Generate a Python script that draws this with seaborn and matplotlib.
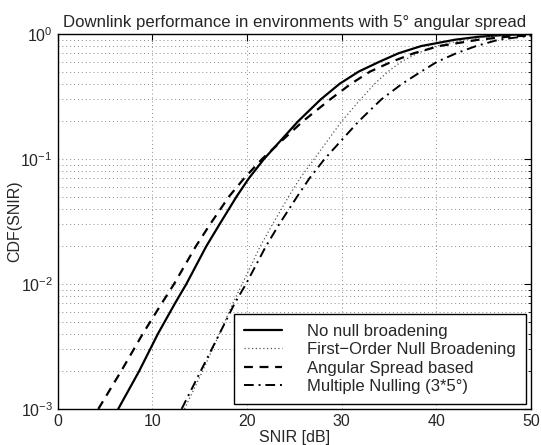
import matplotlib
matplotlib.use("Agg")
import matplotlib.pyplot as plt
import seaborn as sns
import pandas as pd
from matplotlib.ticker import LogLocator, NullFormatter

# CDF levels and SNIR [dB], one list per scheme
cdf_levels = [0.001, 0.002, 0.004, 0.007, 0.01, 0.02, 0.03, 0.05, 0.07, 0.1,
              0.2, 0.3, 0.4, 0.5, 0.6, 0.7, 0.8, 0.9, 0.95, 0.98, 1.0]
snir_no_null = [6.4, 8.6, 10.6, 12.4, 13.6, 15.7, 17.1, 18.9, 20.2, 21.8,
                25.4, 27.8, 29.8, 31.8, 34.0, 36.0, 38.4, 42.0, 44.5, 47.0, 50.0]
snir_first_order = [13.4, 15.3, 17.1, 18.5, 19.5, 21.4, 22.7, 24.4, 25.6, 27.1,
                    30.0, 32.0, 33.5, 34.9, 36.3, 38.0, 40.0, 43.0, 45.5, 47.5, 50.0]
snir_angular = [4.3, 6.7, 9.0, 11.0, 12.3, 14.6, 16.1, 18.1, 19.7, 21.6,
                25.9, 28.8, 31.0, 33.0, 35.3, 37.6, 40.3, 44.5, 47.5, 50.0]
cdf_angular = cdf_levels[:19] + [0.975]
snir_multi = [13.1, 15.1, 17.1, 18.7, 19.9, 22.0, 23.4, 25.3, 26.6, 28.2,
              31.8, 34.2, 36.4, 38.4, 40.1, 42.1, 44.2, 46.6, 50.0]
cdf_multi = cdf_levels[:18] + [0.97]

series = [
    ("No null broadening", snir_no_null, cdf_levels, "-", 1.6, "black"),
    ("First\u2212Order Null Broadening", snir_first_order, cdf_levels, (0, (1, 2)), 0.9, "#555555"),
    ("Angular Spread based", snir_angular, cdf_angular, (0, (4, 3)), 1.6, "black"),
    ("Multiple Nulling (3*5\u00b0)", snir_multi, cdf_multi, (0, (5, 2.5, 1, 2.5)), 1.4, "black"),
]

sns.set_style("white")
plt.rcParams["font.family"] = ["Liberation Sans", "DejaVu Sans"]
plt.rcParams["mathtext.fontset"] = "custom"
plt.rcParams["mathtext.rm"] = "Liberation Sans"
plt.rcParams["mathtext.it"] = "Liberation Sans"

fig = plt.figure(figsize=(5.41, 4.45), dpi=100)
ax = fig.add_axes([0.1065, 0.081, 0.875, 0.8427])

for name, xs, ys, ls, lw, col in series:
    df = pd.DataFrame({"snir": xs, "cdf": ys})
    sns.lineplot(data=df, x="snir", y="cdf", ax=ax, color=col,
                 linestyle=ls, linewidth=lw, label=name, sort=False)

ax.set_yscale("log")
ax.set_xlim(0, 50)
ax.set_ylim(1e-3, 1)
ax.set_xticks([0, 10, 20, 30, 40, 50])
ax.yaxis.set_major_locator(LogLocator(base=10, numticks=10))
ax.yaxis.set_minor_locator(LogLocator(base=10, subs=range(2, 10), numticks=20))
ax.yaxis.set_minor_formatter(NullFormatter())

grid_style = dict(linestyle=(0, (1, 3)), color="#8a8a8a", linewidth=0.7)
ax.grid(True, which="major", axis="x", **grid_style)
ax.grid(True, which="both", axis="y", **grid_style)

ax.tick_params(which="both", direction="in", top=True, right=True, labelsize=11.5,
               color="black")
ax.tick_params(which="major", length=5)
ax.tick_params(which="minor", length=2.5)
for sp in ax.spines.values():
    sp.set_color("black")
    sp.set_linewidth(1.0)

ax.set_title("Downlink performance in environments with 5\u00b0 angular spread",
             fontsize=12.1, pad=5)
ax.set_xlabel("SNIR [dB]", fontsize=11.5, labelpad=1)
ax.set_ylabel("CDF(SNIR)", fontsize=11.5, labelpad=-1)

leg = ax.legend(loc="lower right", fontsize=12, frameon=True, fancybox=False,
                edgecolor="black", framealpha=1, handlelength=2.3,
                handletextpad=1.5, borderaxespad=0.3, labelspacing=0.2,
                borderpad=0.6)
leg.get_frame().set_linewidth(1.0)

fig.savefig("out.png", dpi=100)
